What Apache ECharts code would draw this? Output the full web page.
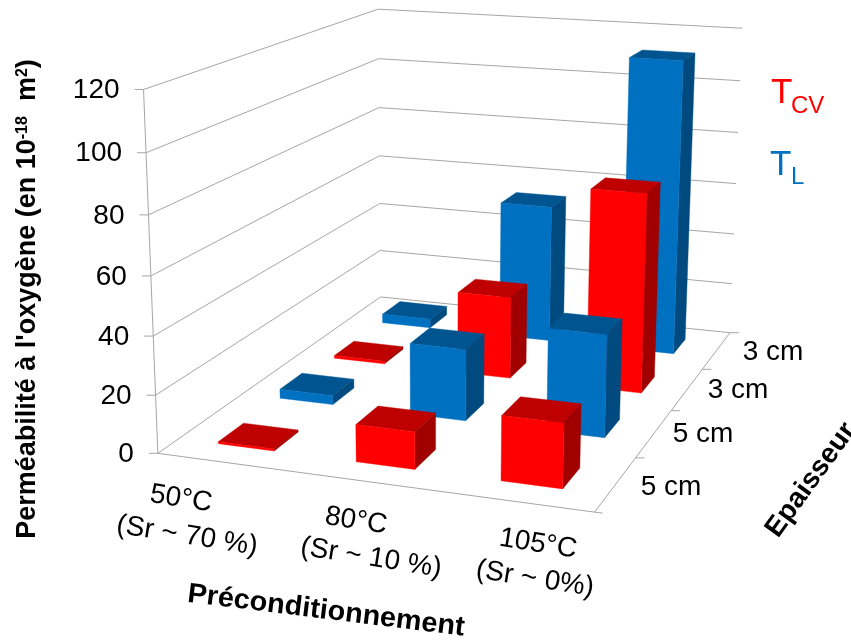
<!DOCTYPE html>
<html><head><meta charset="utf-8">
<style>html,body{margin:0;padding:0;background:#fff}#c{width:851px;height:641px}</style>
<script src="https://cdn.jsdelivr.net/npm/echarts@6/dist/echarts.min.js"></script></head>
<body><div id="c"></div>
<script>
const categories = [['50°C','(Sr ~ 70 %)'],['80°C','(Sr ~ 10 %)'],['105°C','(Sr ~ 0%)']];
const depthLabels = ['5 cm','5 cm','3 cm','3 cm'];
const valueTicks = [0,20,40,60,80,100,120];
const redFront5cm = [0.7,12.7,21.7];
const blue5cm = [3.3,25.5,36];
const red3cm = [1,30.5,73];
const blueBack3cm = [3.5,53,112];
const VMAX = 120;

// Projection of the 3D box (u across, w depth, v height) on the page, fitted from the box corners
const anchors = [
 [0,0,0,158,453],[1,0,0,595,512],[1,1,0,730,333],[0,1,0,380,297],
 [0,0,1,143,90],[0,1,1,379,9],[1,1,1,742,28]
];
function fit(){
  const A=[],b=[];
  anchors.forEach(([u,w,v,x,y])=>{
    A.push([u,w,v,1,0,0,0,0,-x*u,-x*w,-x*v]);b.push(x);
    A.push([0,0,0,0,u,w,v,1,-y*u,-y*w,-y*v]);b.push(y);
  });
  const n=11,M=[];
  for(let i=0;i<n;i++){M[i]=[];for(let j=0;j<=n;j++){let s=0;
    for(let k=0;k<A.length;k++)s+=A[k][i]*(j<n?A[k][j]:b[k]);M[i][j]=s;}
    M[i][i]+=1e-9;}
  for(let i=0;i<n;i++){let p=i;for(let r=i+1;r<n;r++)if(Math.abs(M[r][i])>Math.abs(M[p][i]))p=r;
    [M[i],M[p]]=[M[p],M[i]];
    for(let r=0;r<n;r++)if(r!==i){const f=M[r][i]/M[i][i];for(let j=i;j<=n;j++)M[r][j]-=f*M[i][j];}}
  return M.map((r,i)=>r[n]/r[i]);
}
const P=fit();
function proj(u,w,v){
  const d=P[8]*u+P[9]*w+P[10]*v+1;
  return [(P[0]*u+P[1]*w+P[2]*v+P[3])/d,(P[4]*u+P[5]*w+P[6]*v+P[7])/d];
}
const HW=0.0685, HD=0.049;
const RED={front:'#FF0000',top:'#BE0000',side:'#A00000'};
const BLUE={front:'#0070C0',top:'#005590',side:'#004A80'};
const GRID='#A6A6A6';
const depthPlace=[[671,487],[703,434],[738,390],[773,352]];
const catPlace=[[[181,499],[187,536]],[[356,521],[371,558]],[[538,544],[535,579]]];
const FONT='28px "Liberation Sans"';

function barItem(col){
  return function(params,api){
    const c=api.value(0),r=api.value(1),val=api.value(2);
    const uc=(c+0.5)/3,wc=(r+0.5)/4,h=val/VMAX;
    const pt=(u,w,v)=>api.coord(proj(u,w,v));
    const u0=uc-HW,u1=uc+HW,w0=wc-HD,w1=wc+HD;
    const poly=(pts,fill)=>({type:'polygon',shape:{points:pts},style:{fill:fill,stroke:fill,lineWidth:0.4}});
    return {type:'group',children:[
      poly([pt(u0,w0,h),pt(u1,w0,h),pt(u1,w1,h),pt(u0,w1,h)],col.top),
      poly([pt(u1,w0,0),pt(u1,w1,0),pt(u1,w1,h),pt(u1,w0,h)],col.side),
      poly([pt(u0,w0,0),pt(u1,w0,0),pt(u1,w0,h),pt(u0,w0,h)],col.front)
    ]};
  };
}
function rowSeries(name,vals,row,col){
  return {type:'custom',name:name,coordinateSystem:'cartesian2d',z:10+(3-row),
    data:vals.map((v,i)=>[i,row,v]),renderItem:barItem(col),silent:true,animation:false,clip:false};
}
function line(api,a,b,w){
  const p=api.coord(a),q=api.coord(b);
  return {type:'line',shape:{x1:p[0],y1:p[1],x2:q[0],y2:q[1]},style:{stroke:GRID,lineWidth:w||1}};
}
const frame={type:'custom',name:'frame',coordinateSystem:'cartesian2d',z:1,silent:true,animation:false,clip:false,
  data:valueTicks.map(t=>[t,0]),
  renderItem(params,api){
    const t=api.value(0),v=t/VMAX,ch=[];
    const fl=proj(0,0,v),bl=proj(0,1,v),br=proj(1,1,v);
    ch.push(line(api,fl,bl),line(api,bl,br));
    ch.push(line(api,[fl[0]-9,fl[1]],fl));
    const l=api.coord([fl[0]-24,fl[1]+1]);
    ch.push({type:'text',x:l[0],y:l[1],style:{text:String(t),fill:'#000',font:FONT,textAlign:'right',textVerticalAlign:'middle'}});
    if(t===0){
      const fr=proj(1,0,0);
      ch.push(line(api,fl,fr),line(api,fr,br),line(api,[fr[0],fr[1]],[fr[0]+8,fr[1]+1]));
      ch.push(line(api,proj(0,0,0),proj(0,0,1)));
      ch.push(line(api,br,[br[0]+9,br[1]]));
      for(let i=1;i<4;i++){const q=proj(1,i/4,0);ch.push(line(api,q,[q[0]+9,q[1]]));}
    }
    return {type:'group',children:ch};
  }};
const depthText={type:'custom',name:'depth',coordinateSystem:'cartesian2d',z:2,silent:true,animation:false,clip:false,
  data:depthLabels.map((d,i)=>[i,0]),
  renderItem(params,api){
    const i=api.value(0),p=api.coord(depthPlace[i]);
    return {type:'text',x:p[0],y:p[1],style:{text:depthLabels[i],fill:'#000',font:FONT,textAlign:'center',textVerticalAlign:'middle'}};
  }};
const catText={type:'custom',name:'cats',coordinateSystem:'cartesian2d',z:2,silent:true,animation:false,clip:false,
  data:categories.map((d,i)=>[i,0]),
  renderItem(params,api){
    const i=api.value(0);
    return {type:'group',children:[0,1].map(k=>{
      const p=api.coord(catPlace[i][k]);
      return {type:'text',x:p[0],y:p[1],rotation:-9*Math.PI/180,
        style:{text:categories[i][k],fill:'#000',font:FONT,align:'center',verticalAlign:'middle'}};
    })};
  }};
const option={
  animation:false,backgroundColor:'#fff',
  grid:{left:0,top:0,width:851,height:641},
  xAxis:{type:'value',min:0,max:851,show:false},
  yAxis:{type:'value',min:0,max:641,inverse:true,show:false},
  series:[frame,depthText,catText,
    rowSeries('TL 3 cm',blueBack3cm,3,BLUE),
    rowSeries('TCV 3 cm',red3cm,2,RED),
    rowSeries('TL 5 cm',blue5cm,1,BLUE),
    rowSeries('TCV 5 cm',redFront5cm,0,RED)],
  graphic:[
    {type:'text',x:28,y:299,rotation:Math.PI/2,style:{
      rich:{b:{font:'bold 27px "Liberation Sans"',fill:'#000'},s:{font:'bold 16px "Liberation Sans"',fill:'#000',verticalAlign:'top',padding:[0,0,10,0]}},
      text:"{b|Perméabilité à l'oxygène (en 10}{s|-18}{b|  m}{s|2}{b|)}",align:'center',verticalAlign:'middle'}},
    {type:'text',x:326,y:611,rotation:-7*Math.PI/180,scaleX:1.03,style:{text:'Préconditionnement',fill:'#000',font:'bold 28px "Liberation Sans"',align:'center',verticalAlign:'middle'}},
    {type:'text',x:811,y:480,rotation:54*Math.PI/180,style:{text:'Epaisseur',fill:'#000',font:'bold 28px "Liberation Sans"',align:'center',verticalAlign:'middle'}},
    {type:'text',x:771,y:93,style:{text:'T',fill:'#FF0000',font:'35px "Liberation Sans"',verticalAlign:'middle'}},
    {type:'text',x:791,y:106,style:{text:'CV',fill:'#FF0000',font:'24px "Liberation Sans"',verticalAlign:'middle'}},
    {type:'text',x:770,y:165,style:{text:'T',fill:'#0070C0',font:'35px "Liberation Sans"',verticalAlign:'middle'}},
    {type:'text',x:791,y:177,style:{text:'L',fill:'#0070C0',font:'24px "Liberation Sans"',verticalAlign:'middle'}}
  ]
};
echarts.init(document.getElementById('c'),null,{renderer:'canvas'}).setOption(option);
</script></body></html>
